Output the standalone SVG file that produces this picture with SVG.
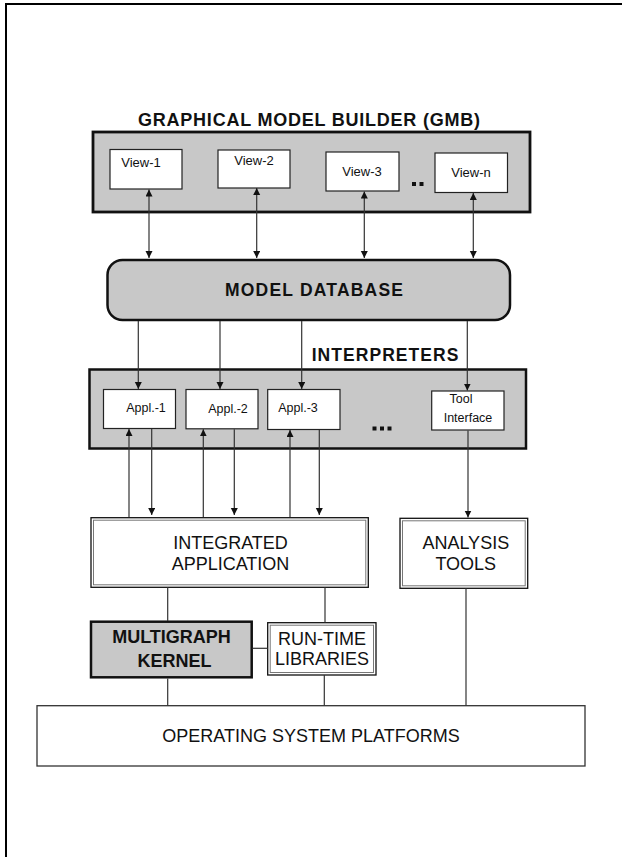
<svg xmlns="http://www.w3.org/2000/svg" width="622" height="857" viewBox="0 0 622 857">
<style>
text{font-family:"Liberation Sans",Arial,Helvetica,sans-serif;fill:#111}
.b{font-weight:bold}
.big{font-size:18px}
.sm{font-size:13px}
.ap{font-size:12.5px}
.grey{fill:#c8c8c8;stroke:#111}
.wh{fill:#fff;stroke:#222;stroke-width:1.2}
.dbo{fill:#fff;stroke:#111;stroke-width:1.3}
.dbi{fill:none;stroke:#777;stroke-width:1}
.c{stroke:#333;stroke-width:1.2;fill:none}
.a{marker-end:url(#ah)}
.bi{marker-start:url(#ah);marker-end:url(#ah)}
</style>
<defs>
<marker id="ah" markerUnits="userSpaceOnUse" markerWidth="9" markerHeight="8" refX="7" refY="3.5" orient="auto-start-reverse">
<path d="M0,0 L7,3.5 L0,7 z" fill="#111"/>
</marker>
</defs>
<rect width="622" height="857" fill="#fff"/>
<path d="M6,857 V4 H622" fill="none" stroke="#000" stroke-width="2"/>

<g id="gmb">
<text class="b" x="309" y="126" font-size="18" text-anchor="middle" textLength="342" lengthAdjust="spacing">GRAPHICAL MODEL BUILDER (GMB)</text>
<rect class="grey" x="93" y="132" width="437" height="80" stroke-width="2.8"/>
<rect x="412" y="182" width="4" height="4" fill="#111"/>
<rect x="419.5" y="182" width="4" height="4" fill="#111"/>
</g>
<g id="view1"><rect class="wh" x="110" y="149.5" width="72" height="39.5"/><text class="sm" x="141" y="166.5" text-anchor="middle">View-1</text></g>
<g id="view2"><rect class="wh" x="218" y="150" width="72" height="38"/><text class="sm" x="254" y="164.5" text-anchor="middle">View-2</text></g>
<g id="view3"><rect class="wh" x="326" y="152" width="73" height="39"/><text class="sm" x="362" y="176" text-anchor="middle">View-3</text></g>
<g id="viewn"><rect class="wh" x="435" y="153" width="72.5" height="39.5"/><text class="sm" x="471" y="177.3" text-anchor="middle">View-n</text></g>

<g id="modeldb">
<rect class="grey" x="107.5" y="260" width="402.5" height="60" rx="15" ry="15" stroke-width="2.5"/>
<text class="b" x="314" y="296" font-size="17.5" text-anchor="middle" textLength="178" lengthAdjust="spacing">MODEL DATABASE</text>
</g>

<g id="interpreters">
<text class="b" x="311.7" y="360.7" font-size="17.5" textLength="146.7" lengthAdjust="spacing">INTERPRETERS</text>
<rect class="grey" x="89.5" y="369.5" width="436.5" height="79" stroke-width="2.5"/>
<rect x="372.5" y="426.5" width="4" height="4" fill="#111"/>
<rect x="380" y="426.5" width="4" height="4" fill="#111"/>
<rect x="387.5" y="426.5" width="4" height="4" fill="#111"/>
</g>
<g id="appl1"><rect class="wh" x="103.5" y="389.5" width="72" height="39"/><text class="ap" x="146" y="411.7" text-anchor="middle">Appl.-1</text></g>
<g id="appl2"><rect class="wh" x="186" y="389.5" width="72" height="39.3"/><text class="ap" x="228" y="412.5" text-anchor="middle">Appl.-2</text></g>
<g id="appl3"><rect class="wh" x="267.7" y="389.5" width="72.3" height="40"/><text class="ap" x="298" y="412" text-anchor="middle">Appl.-3</text></g>
<g id="toolif"><rect class="wh" x="431.7" y="391" width="72.3" height="39"/><text class="ap" x="461" y="403.3" text-anchor="middle">Tool</text><text class="ap" x="468" y="421.7" text-anchor="middle">Interface</text></g>

<g id="integrated">
<rect class="dbo" x="91" y="517.7" width="277.3" height="69.6"/>
<rect class="dbi" x="93.5" y="520.2" width="272.3" height="64.6"/>
<text class="big" x="230.5" y="549.3" text-anchor="middle">INTEGRATED</text>
<text class="big" x="230.5" y="570" text-anchor="middle">APPLICATION</text>
</g>
<g id="analysis">
<rect class="dbo" x="400" y="518.3" width="127.7" height="70"/>
<rect class="dbi" x="402.5" y="520.8" width="122.7" height="65"/>
<text class="big" x="465.8" y="549" text-anchor="middle">ANALYSIS</text>
<text class="big" x="465.8" y="570" text-anchor="middle">TOOLS</text>
</g>
<g id="kernel">
<rect class="grey" x="91" y="621.7" width="160.7" height="55.6" stroke-width="2.5"/>
<text class="big b" x="171.5" y="643.3" text-anchor="middle">MULTIGRAPH</text>
<text class="big b" x="174.5" y="666.7" text-anchor="middle">KERNEL</text>
</g>
<g id="runtime">
<rect class="dbo" x="267.7" y="622.7" width="108.3" height="52.3"/>
<rect class="dbi" x="270.2" y="625.2" width="103.3" height="47.3"/>
<text class="big" x="322" y="645" text-anchor="middle">RUN-TIME</text>
<text class="big" x="322" y="664.5" text-anchor="middle">LIBRARIES</text>
</g>
<g id="os">
<rect x="37" y="705.7" width="548" height="60.3" fill="#fff" stroke="#333" stroke-width="1.3"/>
<text class="big" x="311" y="741.5" text-anchor="middle">OPERATING SYSTEM PLATFORMS</text>
</g>

<g id="connectors">
<line class="c bi" x1="149" y1="189.5" x2="149" y2="258"/>
<line class="c bi" x1="256.7" y1="188" x2="256.7" y2="258"/>
<line class="c bi" x1="364.3" y1="191.5" x2="364.3" y2="258"/>
<line class="c bi" x1="473.3" y1="193" x2="473.3" y2="258"/>
<line class="c a" x1="138.3" y1="321" x2="138.3" y2="389"/>
<line class="c a" x1="220" y1="321" x2="220" y2="389"/>
<line class="c a" x1="301.7" y1="321" x2="301.7" y2="389"/>
<line class="c a" x1="467.3" y1="321" x2="467.3" y2="390.5"/>
<line class="c a" x1="129" y1="517" x2="129" y2="429"/>
<line class="c a" x1="203.3" y1="517" x2="203.3" y2="429.3"/>
<line class="c a" x1="290" y1="517" x2="290" y2="430"/>
<line class="c a" x1="151.7" y1="429" x2="151.7" y2="515"/>
<line class="c a" x1="234.3" y1="429.3" x2="234.3" y2="515"/>
<line class="c a" x1="319.3" y1="430" x2="319.3" y2="515"/>
<line class="c a" x1="468" y1="430.5" x2="468" y2="517.5"/>
<line class="c" x1="167.7" y1="587.3" x2="167.7" y2="621"/>
<line class="c" x1="325" y1="587.3" x2="325" y2="622.5"/>
<line class="c" x1="252.5" y1="648.3" x2="267.7" y2="648.3"/>
<line class="c" x1="167.7" y1="678.5" x2="167.7" y2="705.7"/>
<line class="c" x1="324.3" y1="675" x2="324.3" y2="705.7"/>
<line class="c" x1="466" y1="588.3" x2="466" y2="705.7"/>
</g>
</svg>
